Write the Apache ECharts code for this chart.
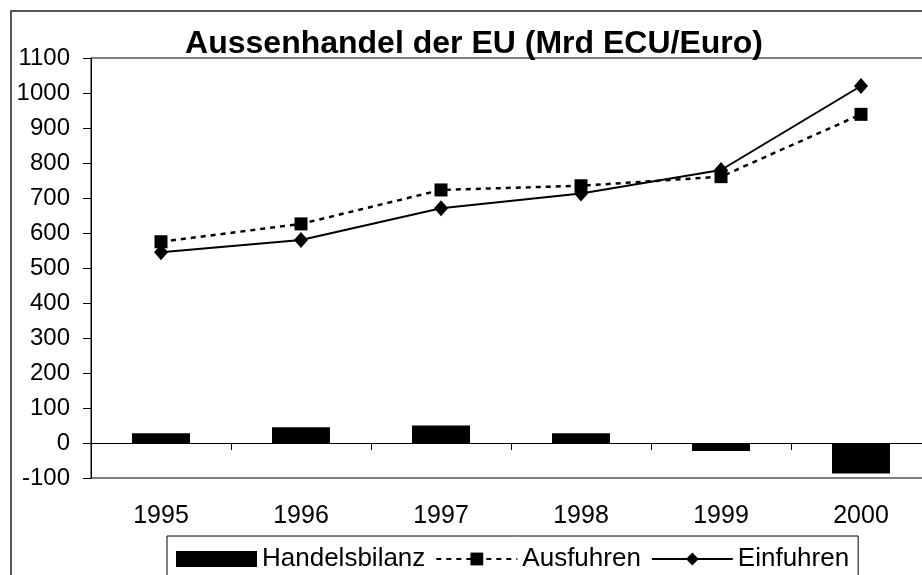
<!DOCTYPE html>
<html>
<head>
<meta charset="utf-8">
<title>Aussenhandel der EU</title>
<script src="https://cdn.jsdelivr.net/npm/echarts@6/dist/echarts.min.js"></script>
<style>
    html, body { margin: 0; padding: 0; background: #fff; }
    #chart { width: 922px; height: 575px; }
</style>
</head>
<body>
<div id="chart"></div>
<script>
// Daten
const years = ['1995', '1996', '1997', '1998', '1999', '2000'];
const handelsbilanz = [28, 45, 50, 28, -23, -87];
const ausfuhren = [575, 626, 723, 735, 761, 939];
const einfuhren = [545, 580, 671, 713, 780, 1020];

const font = 'Liberation Sans, Arial, sans-serif';

const chart = echarts.init(document.getElementById('chart'));

const option = {
    backgroundColor: '#fff',
    animation: false,
    title: {
        text: 'Aussenhandel der EU (Mrd ECU/Euro)',
        left: 469,
        textAlign: 'center',
        top: 23,
        textStyle: {
            fontFamily: font,
            fontSize: 32,
            fontWeight: 'bold',
            color: '#000'
        }
    },
    // äußerer Rahmen
    graphic: [{
        type: 'rect',
        shape: { x: 11, y: 11, width: 2000, height: 2000 },
        style: { fill: 'none', stroke: '#222', lineWidth: 1.5 },
        silent: true
    }],
    legend: {
        left: 167,
        top: 536,
        padding: [10, 9, 10, 9],
        borderColor: '#000',
        borderWidth: 1,
        itemWidth: 81,
        itemHeight: 16,
        itemGap: 10,
        textStyle: { fontFamily: font, fontSize: 26, color: '#000' },
        data: [
            { name: 'Handelsbilanz', icon: 'rect' },
            { name: 'Ausfuhren' },
            { name: 'Einfuhren' }
        ]
    },
    grid: {
        left: 91,
        top: 58,
        width: 840,
        height: 420,
        outerBoundsMode: 'none',
        show: true,
        borderColor: '#000',
        borderWidth: 1,
        backgroundColor: '#fff'
    },
    xAxis: [
        {
            // Achse auf der Nulllinie
            type: 'category',
            data: years,
            axisLine: { onZero: true, lineStyle: { color: '#000', width: 1 } },
            axisTick: { show: true, length: 7, lineStyle: { color: '#000' } },
            axisLabel: { show: false },
            splitLine: { show: false }
        },
        {
            // Beschriftung unten
            type: 'category',
            data: years,
            position: 'bottom',
            axisLine: { show: false, onZero: false },
            axisTick: { show: false },
            axisLabel: { margin: 26, fontFamily: font, fontSize: 25, color: '#000' },
            splitLine: { show: false }
        }
    ],
    yAxis: {
        type: 'value',
        min: -100,
        max: 1100,
        interval: 100,
        axisLine: { show: true, lineStyle: { color: '#000', width: 1 } },
        axisTick: { show: true, length: 8, lineStyle: { color: '#000' } },
        axisLabel: {
            margin: 21,
            fontFamily: font,
            fontSize: 24,
            color: '#000',
            formatter: (v) => String(v)
        },
        splitLine: { show: false }
    },
    series: [
        {
            name: 'Handelsbilanz',
            type: 'bar',
            data: handelsbilanz,
            barWidth: 58,
            itemStyle: { color: '#000' }
        },
        {
            name: 'Ausfuhren',
            type: 'line',
            data: ausfuhren,
            symbol: 'rect',
            symbolSize: 13,
            itemStyle: { color: '#000' },
            lineStyle: { color: '#000', width: 2.5, type: [5, 5] }
        },
        {
            name: 'Einfuhren',
            type: 'line',
            data: einfuhren,
            symbol: 'diamond',
            symbolSize: [14, 16],
            itemStyle: { color: '#000' },
            lineStyle: { color: '#000', width: 2 }
        }
    ]
};

chart.setOption(option);

window.addEventListener('resize', () => {
    chart.resize();
});
</script>
</body>
</html>
